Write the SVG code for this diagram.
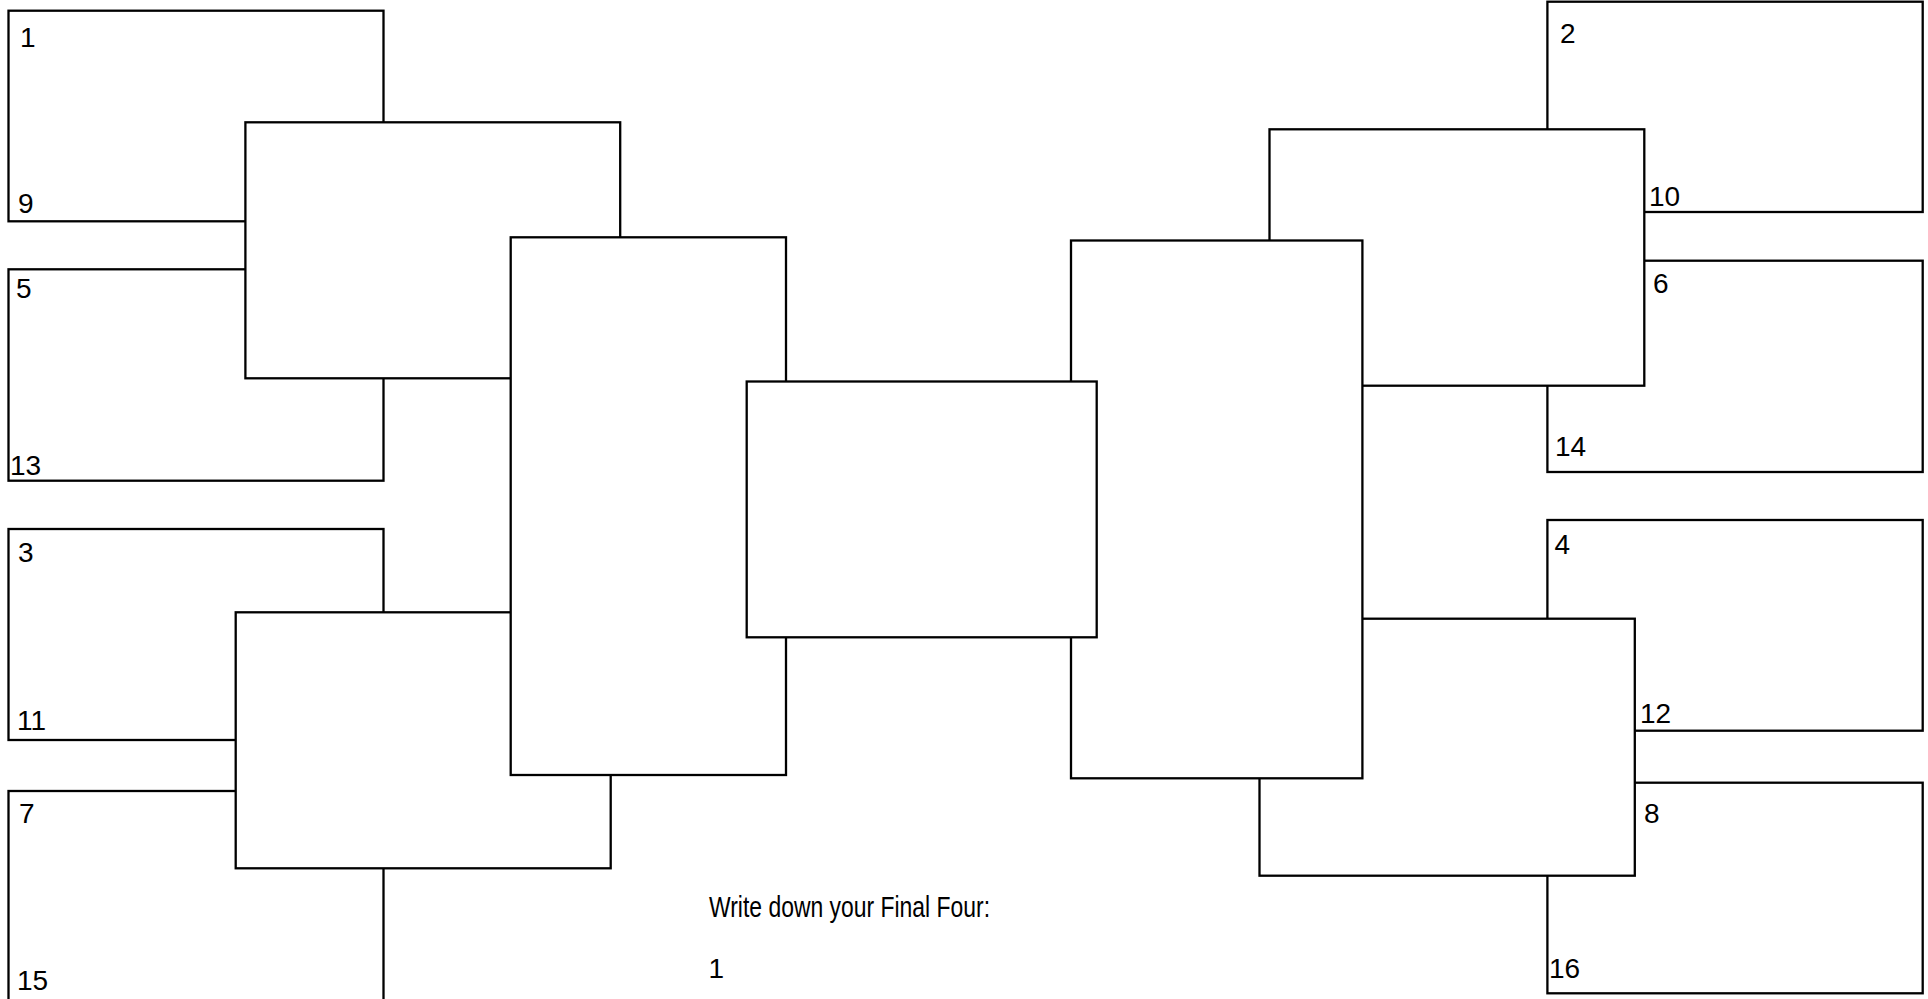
<svg xmlns="http://www.w3.org/2000/svg" width="1928" height="999" viewBox="0 0 1928 999">
<style>
.b{fill:#fff;stroke:#000;stroke-width:2.3}
.t{font-family:"Liberation Sans",Arial,sans-serif;font-size:28px;fill:#000}
.w{font-size:29px}
</style>
<rect x="0" y="0" width="1928" height="999" fill="#fff"/>
<g id="connectors"/>
<!-- left leaves -->
<g id="seed1"><rect class="b" x="8.5" y="10.7" width="375" height="210.6"/><text class="t" x="20" y="46.5">1</text><text class="t" x="18" y="213">9</text></g>
<g id="seed5"><rect class="b" x="8.5" y="269.3" width="375" height="211.4"/><text class="t" x="16" y="298">5</text><text class="t" x="10" y="475">13</text></g>
<g id="seed3"><rect class="b" x="8.5" y="529" width="375" height="211"/><text class="t" x="18" y="561.5">3</text><text class="t" x="17" y="730">11</text></g>
<g id="seed7"><rect class="b" x="8.5" y="791" width="375" height="211"/><text class="t" x="19" y="823">7</text><text class="t" x="17" y="990">15</text></g>
<!-- right leaves -->
<g id="seed2"><rect class="b" x="1547.4" y="1.7" width="375.3" height="210.3"/><text class="t" x="1560" y="42.5">2</text><text class="t" x="1649" y="206">10</text></g>
<g id="seed6"><rect class="b" x="1547.4" y="260.7" width="375.3" height="211.3"/><text class="t" x="1653" y="293">6</text><text class="t" x="1555" y="455.5">14</text></g>
<g id="seed4"><rect class="b" x="1547.4" y="520" width="375.3" height="210.7"/><text class="t" x="1554.5" y="554">4</text><text class="t" x="1640" y="722.5">12</text></g>
<g id="seed8"><rect class="b" x="1547.4" y="782.7" width="375.3" height="210.6"/><text class="t" x="1644" y="823">8</text><text class="t" x="1549" y="978">16</text></g>
<!-- round 2 -->
<g id="r2-tl"><rect class="b" x="245.4" y="122.3" width="374.8" height="256"/></g>
<g id="r2-bl"><rect class="b" x="235.7" y="612.3" width="375" height="256"/></g>
<g id="r2-tr"><rect class="b" x="1269.5" y="129.3" width="374.8" height="256.4"/></g>
<g id="r2-br"><rect class="b" x="1259.5" y="618.7" width="375.3" height="257"/></g>
<!-- round 3 -->
<g id="r3-l"><rect class="b" x="510.7" y="237.3" width="275.3" height="537.7"/></g>
<g id="r3-r"><rect class="b" x="1071" y="240.5" width="291.4" height="537.8"/></g>
<!-- center -->
<g id="final"><rect class="b" x="746.7" y="381.5" width="350" height="255.8"/></g>
<g id="final-four">
<text class="t w" x="709" y="916.5" textLength="281" lengthAdjust="spacingAndGlyphs">Write down your Final Four:</text>
<text class="t" x="708.5" y="978">1</text>
</g>
</svg>
